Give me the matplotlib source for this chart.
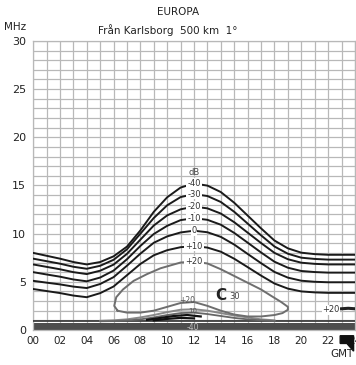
import matplotlib
matplotlib.use("Agg")
import matplotlib.pyplot as plt
from matplotlib.patches import Polygon

# ---- data -------------------------------------------------------------
hours = list(range(0, 25))

# field-strength contours above the MUF (MHz at each whole hour GMT)
c_m40 = [8.0, 7.7, 7.4, 7.05, 6.8, 7.05, 7.64, 8.65, 10.33, 12.26, 13.77, 14.78, 15.2,
         14.98, 14.31, 13.2, 11.87, 10.54, 9.28, 8.47, 8.02, 7.87, 7.8, 7.8, 7.8]
c_m30 = [7.4, 7.14, 6.88, 6.56, 6.35, 6.66, 7.28, 8.37, 9.99, 11.62, 12.94, 13.79, 14.1,
         13.9, 13.28, 12.26, 11.04, 9.82, 8.66, 7.91, 7.5, 7.37, 7.3, 7.3, 7.3]
c_m20 = [6.8, 6.55, 6.3, 6.0, 5.8, 6.15, 6.78, 7.9, 9.37, 10.84, 11.89, 12.52, 12.8,
         12.62, 12.08, 11.18, 10.1, 9.02, 8.0, 7.34, 6.98, 6.86, 6.8, 6.8, 6.8]
c_m10 = [6.0, 5.76, 5.53, 5.24, 5.05, 5.44, 6.16, 7.34, 8.72, 9.96, 10.81, 11.4, 11.6,
         11.43, 10.92, 10.07, 9.06, 8.04, 7.08, 6.46, 6.12, 6.01, 5.95, 5.95, 5.95]
c_0 = [5.1, 4.91, 4.73, 4.5, 4.35, 4.77, 5.48, 6.67, 7.92, 9.05, 9.71, 10.12, 10.3,
       10.14, 9.66, 8.86, 7.89, 6.93, 6.02, 5.43, 5.11, 5.0, 4.95, 4.95, 4.95]
c_p10 = [4.25, 4.04, 3.83, 3.57, 3.4, 3.82, 4.51, 5.68, 6.85, 7.75, 8.28, 8.59, 8.7,
         8.55, 8.12, 7.39, 6.52, 5.64, 4.82, 4.29, 4.0, 3.9, 3.85, 3.85, 3.85]
upper_contours = [c_m40, c_m30, c_m20, c_m10, c_0, c_p10]
upper_labels = ["-40", "-30", "-20", "-10", "0", "+10"]

# closed +20 dB contour (daytime region above +20 dB)
loop_h = [6.3, 6.05, 6.2, 6.7, 7.5, 8.5, 9.5, 11.0, 12.0, 13.0, 14.0, 15.0, 16.0, 17.0,
          17.8, 18.5, 19.0, 19.0, 18.6, 18.0, 17.0, 16.0, 15.0, 14.0, 13.0, 12.0,
          11.0, 10.0, 9.0, 8.0, 7.0, 6.3]
loop_f = [2.0, 2.5, 3.4, 4.2, 5.1, 5.8, 6.4, 7.0, 7.1, 6.9, 6.3, 5.6, 4.9, 4.2,
          3.5, 2.9, 2.4, 2.1, 1.75, 1.55, 1.4, 1.4, 1.6, 2.0, 2.5, 2.9,
          2.8, 2.4, 2.0, 1.8, 1.8, 2.0]

# small night-time +20 dB patch
night20_h = [23.0, 23.5, 24.0]
night20_f = [2.2, 2.25, 2.2]

# low-frequency (absorption) contours
low_h = [5, 6, 7, 8, 9, 10, 11, 12, 13, 14, 15, 16, 17, 18]
low_p10 = [0.95, 1.0, 1.1, 1.3, 1.55, 1.85, 2.1, 2.15, 2.0, 1.75, 1.5, 1.3, 1.1, 1.0]
low_0 = [0.9, 0.92, 0.98, 1.1, 1.3, 1.55, 1.75, 1.8, 1.65, 1.45, 1.25, 1.1, 1.0, 0.92]
low_m10_h = [8.5, 9.5, 10.5, 11.5, 12.5]
low_m10 = [1.05, 1.25, 1.45, 1.55, 1.4]
low_m20_h = [9.0, 10.0, 11.0, 12.0]
low_m20 = [1.0, 1.15, 1.25, 1.2]
band_h = [0, 24]
band_top = [0.7, 0.7]
base_line = [0.92, 0.92]

x_ticks = list(range(0, 25, 2))
x_ticklabels = ["00", "02", "04", "06", "08", "10", "12", "14", "16", "18", "20", "22", "24"]
y_ticks = [0, 5, 10, 15, 20, 25, 30]

# ---- figure -------------------------------------------------------------
fig = plt.figure(figsize=(3.56, 3.65), dpi=100)
ax = fig.add_axes([0.093, 0.096, 0.904, 0.792])
ax.set_xlim(0, 24)
ax.set_ylim(0, 30)

grid_col = "#b8b8b8"
ax.set_xticks(x_ticks)
ax.set_xticklabels(x_ticklabels, fontsize=7.5, color="#222")
ax.set_xticks(range(0, 25), minor=True)
ax.set_yticks(y_ticks)
ax.set_yticklabels([str(v) for v in y_ticks], fontsize=8, color="#222")
ax.set_yticks(range(0, 31), minor=True)
ax.tick_params(which="both", length=0)
ax.tick_params(axis="x", pad=4)
ax.tick_params(axis="y", pad=5)
ax.grid(which="both", color=grid_col, lw=0.9)
ax.set_axisbelow(True)
for s in ax.spines.values():
    s.set_color(grid_col)
    s.set_linewidth(0.9)

# absorption band at the bottom
ax.fill_between(band_h, 0, band_top, color="#4d4d4d", lw=0, zorder=2)
ax.plot(band_h, base_line, color="#333", lw=1.2, zorder=3)
ax.plot(low_h, low_p10, color="#888", lw=1.4, zorder=3)
ax.plot(low_h, low_0, color="#666", lw=1.3, zorder=3)
ax.plot(low_m10_h, low_m10, color="#111", lw=1.6, zorder=3)
ax.plot(low_m20_h, low_m20, color="#111", lw=1.6, zorder=3)

# contours above the MUF
for vals in upper_contours:
    ax.plot(hours, vals, color="#1a1a1a", lw=1.4, zorder=3, solid_capstyle="round")
ax.plot(loop_h, loop_f, color="#6e6e6e", lw=1.4, zorder=3)
ax.plot(night20_h, night20_f, color="#222", lw=2.2, zorder=3)

# contour labels along 12 GMT
lab_kw = dict(fontsize=6, ha="center", va="center", color="#333", zorder=4,
              bbox=dict(facecolor="white", edgecolor="none", pad=0.6))
for vals, lab in zip(upper_contours, upper_labels):
    ax.text(12, vals[12], lab, **lab_kw)
ax.text(12, loop_f[8], "+20", **lab_kw)
ax.text(12, 16.3, "dB", fontsize=6, ha="center", va="center", color="#444", zorder=4)
ax.text(11.5, 3.05, "+20", fontsize=5.5, ha="center", va="center", color="#555", zorder=4)
ax.text(11.9, 1.95, "10", fontsize=5, ha="center", va="center", color="#555", zorder=4)
ax.text(11.9, 0.3, "-40", fontsize=5.5, ha="center", va="center", color="#bbb", zorder=4)
ax.text(14.0, 3.6, "C", fontsize=11, ha="center", va="center", color="#222", zorder=4,
        fontweight="bold")
ax.text(15.0, 3.5, "30", fontsize=6, ha="center", va="center", color="#444", zorder=4)
ax.text(22.2, 2.1, "+20", fontsize=6, ha="center", va="center", color="#333", zorder=4,
        bbox=dict(facecolor="white", edgecolor="none", pad=0.4))

# titles and axis captions
fig.text(0.5, 0.967, "EUROPA", fontsize=7.5, ha="center", va="center", color="#222")
fig.text(0.47, 0.918, "Från Karlsborg  500 km  1°", fontsize=7.5, ha="center",
         va="center", color="#222")
fig.text(0.012, 0.925, "MHz", fontsize=7.5, ha="left", va="center", color="#222")
fig.text(0.992, 0.03, "GMT", fontsize=7.5, ha="right", va="center", color="#222")

# black pointer below the time axis
ax.add_patch(Polygon([(22.9, -0.6), (23.9, -0.6), (23.9, -2.2), (23.4, -1.4), (22.9, -1.4)],
                     closed=True, color="#111", clip_on=False, zorder=5))

fig.savefig("out.png", dpi=100, facecolor="white")
